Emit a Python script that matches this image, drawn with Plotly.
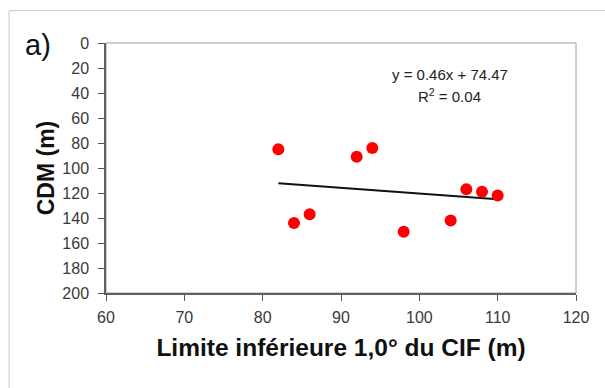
import plotly.graph_objects as go

# Data
limite_inf = [82, 84, 86, 92, 94, 98, 104, 106, 108, 110]
cdm = [85, 144, 137, 91, 84, 151, 142, 117, 119, 122]
slope = 0.46
intercept = 74.47
r2 = 0.04
x_ticks = [60, 70, 80, 90, 100, 110, 120]
y_ticks = [0, 20, 40, 60, 80, 100, 120, 140, 160, 180, 200]

W, H = 605, 388
L, R, T, B = 106, 28.5, 43.3, 95

xmin, xmax = min(limite_inf), max(limite_inf)
trend_x = [xmin, xmax]
trend_y = [slope * v + intercept for v in trend_x]

fig = go.Figure()
fig.add_trace(go.Scatter(x=trend_x, y=trend_y, mode="lines",
                         line=dict(color="#111111", width=2), showlegend=False))
fig.add_trace(go.Scatter(x=limite_inf, y=cdm, mode="markers",
                         marker=dict(color="#ff0000", size=12, line=dict(width=0)),
                         showlegend=False))

pw = W - L - R
ph = H - T - B
def px(x):
    return (x - L) / pw
def py(y):
    return 1 - (y - T) / ph

fig.update_layout(
    width=W, height=H,
    margin=dict(l=L, r=R, t=T, b=B, autoexpand=False),
    paper_bgcolor="white", plot_bgcolor="white",
    font=dict(family="Liberation Sans, Arial, sans-serif", color="#333333", size=16),
    xaxis=dict(range=[60, 120], tickvals=x_ticks, ticks="outside", ticklen=6,
               tickcolor="#555555", showline=True, linecolor="#606060", linewidth=1.5,
               showgrid=False, zeroline=False, tickfont=dict(size=16, color="#3a3a3a"),
               ticklabelstandoff=3,
               title=dict(text="<b>Limite inférieure 1,0° du CIF (m)</b>",
                          font=dict(size=24.5, color="#111111"), standoff=14)),
    yaxis=dict(range=[200, 0], tickvals=y_ticks, ticks="outside", ticklen=6,
               tickcolor="#555555", showline=True, linecolor="#606060", linewidth=1.5,
               showgrid=False, zeroline=False, tickfont=dict(size=16, color="#3a3a3a"),
               ticklabelstandoff=6,
               title=dict(text="<b>CDM (m)</b>", font=dict(size=23, color="#111111"),
                          standoff=1)),
    shapes=[
        dict(type="rect", xref="paper", yref="paper", x0=0, x1=1, y0=0, y1=1,
             line=dict(color="#a0a0a0", width=1), layer="below"),
        dict(type="rect", xref="paper", yref="paper", x0=px(9), x1=px(W + 20),
             y0=py(H + 20), y1=py(11), line=dict(color="#c8c8c8", width=1), layer="below"),
    ],
    annotations=[
        dict(text="a)", xref="paper", yref="paper", x=px(38), y=py(45),
             showarrow=False, font=dict(size=29, color="#111111"),
             xanchor="center", yanchor="middle"),
        dict(text=f"y = {slope:.2f}x + {intercept:.2f}", xref="paper", yref="paper",
             x=px(450), y=py(75), showarrow=False, xanchor="center", yanchor="middle",
             font=dict(size=15, color="#222222")),
        dict(text=f"R<sup>2</sup> = {r2:.2f}", xref="paper", yref="paper",
             x=px(450), y=py(96), showarrow=False, xanchor="center", yanchor="middle",
             font=dict(size=15, color="#222222")),
    ],
)

fig.write_html("out.html")
